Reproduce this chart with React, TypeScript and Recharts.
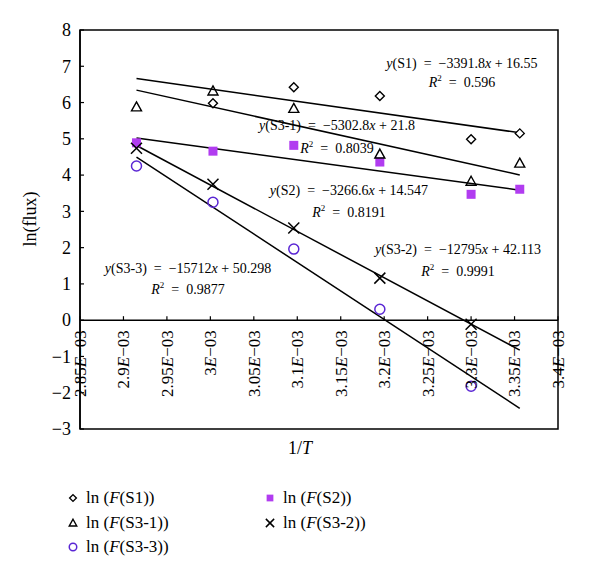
import React from 'react';
import {
  ScatterChart,
  Scatter,
  XAxis,
  YAxis,
  ReferenceLine,
  ReferenceArea,
  ReferenceDot,
} from 'recharts';

// ---- data ----
const X_VALUES = [0.002915, 0.003003, 0.003096, 0.003195, 0.0033, 0.003356];
const S1 = [null, 5.98, 6.42, 6.18, 4.99, 5.15];
const S2 = [4.89, 4.66, 4.82, 4.36, 3.47, 3.61];
const S3_1 = [5.88, 6.32, 5.84, 4.58, 3.83, 4.33];
const S3_2 = [4.74, 3.75, 2.54, 1.16, -0.11, null];
const S3_3 = [4.25, 3.25, 1.96, 0.3, -1.82, null];

const SERIES_NAMES = ['S1', 'S2', 'S3-1', 'S3-2', 'S3-3'];
const FIT_SLOPES = ['3391.8', '3266.6', '5302.8', '12795', '15712'];
const FIT_INTERCEPTS = ['16.55', '14.547', '21.8', '42.113', '50.298'];
const FIT_R2 = ['0.596', '0.8191', '0.8039', '0.9991', '0.9877'];
const LABEL_X = [0.0032895, 0.0031595, 0.0031457, 0.0032849, 0.0029743];
const LABEL_Y = [7.09, 3.59, 5.38, 1.96, 1.44];
const LABEL_R2_Y = [6.57, 2.98, 4.75, 1.36, 0.86];

const X_TICKS = [0.00285, 0.0029, 0.00295, 0.003, 0.00305, 0.0031, 0.00315, 0.0032, 0.00325, 0.0033, 0.00335, 0.0034];
const X_TICK_LABELS = ['2.85E−03', '2.9E−03', '2.95E−03', '3E−03', '3.05E−03', '3.1E−03', '3.15E−03', '3.2E−03', '3.25E−03', '3.3E−03', '3.35E−03', '3.4E−03'];
const Y_TICKS = [-3, -2, -1, 0, 1, 2, 3, 4, 5, 6, 7, 8];
const X_DOMAIN = [0.00285, 0.0034];
const Y_DOMAIN = [-3, 8];

// ---- layout ----
const FONT = '"Liberation Serif", "Times New Roman", serif';
const W = 584;
const H = 460;
const M = { top: 22, right: 34, bottom: 9, left: 22 };
const Y_AXIS_W = 50;
const X_AXIS_H = 30;
const PLOT_H = H - M.top - M.bottom - X_AXIS_H;
const Y0_PX = M.top + (PLOT_H * (Y_DOMAIN[1] - 0)) / (Y_DOMAIN[1] - Y_DOMAIN[0]);

const SQUARE_COLOR = '#b13cf0';
const CIRCLE_COLOR = '#5a26d4';

const toPoints = (ys: (number | null)[]) =>
  X_VALUES.map((x, i) => ({ x, y: ys[i] })).filter((d) => d.y !== null);

// ---- markers ----
const Diamond = ({ cx, cy, k = 1 }: any) => (
  <path d={`M${cx},${cy - 4.5 * k}L${cx + 4.5 * k},${cy}L${cx},${cy + 4.5 * k}L${cx - 4.5 * k},${cy}Z`} fill="#fff" stroke="#000" strokeWidth={1.4} />
);
const Triangle = ({ cx, cy, k = 1 }: any) => (
  <path d={`M${cx},${cy - 5 * k}L${cx + 5 * k},${cy + 4 * k}L${cx - 5 * k},${cy + 4 * k}Z`} fill="none" stroke="#000" strokeWidth={1.4} />
);
const Square = ({ cx, cy, k = 1 }: any) => (
  <rect x={cx - 4.5 * k} y={cy - 4.5 * k} width={9 * k} height={9 * k} fill={SQUARE_COLOR} />
);
const Cross = ({ cx, cy, k = 1 }: any) => (
  <g stroke="#000" strokeWidth={1.5}>
    <line x1={cx - 5.5 * k} y1={cy - 5.5 * k} x2={cx + 5.5 * k} y2={cy + 5.5 * k} />
    <line x1={cx - 5.5 * k} y1={cy + 5.5 * k} x2={cx + 5.5 * k} y2={cy - 5.5 * k} />
  </g>
);
const Circle = ({ cx, cy, k = 1 }: any) => (
  <circle cx={cx} cy={cy} r={5 * k} fill="none" stroke={CIRCLE_COLOR} strokeWidth={1.5} />
);

// ---- ticks ----
const XTick = (props: any) => {
  const { x, index } = props;
  const label: string = X_TICK_LABELS[index] ?? '';
  const [mant, rest] = label.split('E');
  const ty = Y0_PX + 10;
  return (
    <g>
      <line x1={x} y1={Y0_PX} x2={x} y2={Y0_PX - 4} stroke="#000" strokeWidth={1.2} />
      <text
        x={x}
        y={ty}
        transform={`rotate(-90 ${x} ${ty})`}
        textAnchor="end"
        dy="0.35em"
        fontFamily={FONT}
        fontSize={17}
        fill="#000"
      >
        <tspan>{mant}</tspan>
        <tspan fontStyle="italic">E</tspan>
        <tspan>{rest}</tspan>
      </text>
    </g>
  );
};

const YTick = (props: any) => {
  const { y, payload } = props;
  const v = payload.value;
  const axisX = M.left + Y_AXIS_W;
  return (
    <g>
      <line x1={axisX} y1={y} x2={axisX + 4} y2={y} stroke="#000" strokeWidth={1.2} />
      <text x={axisX - 9} y={y} dy="0.35em" textAnchor="end" fontFamily={FONT} fontSize={18} fill="#000">
        {v < 0 ? `−${Math.abs(v)}` : `${v}`}
      </text>
    </g>
  );
};

// ---- equation labels ----
const EqLabel = ({ cx, cy, i }: any) => (
  <text x={cx} y={cy} dy="0.35em" textAnchor="middle" fontFamily={FONT} fontSize={14} fill="#000" style={{ whiteSpace: 'pre' }}>
    <tspan fontStyle="italic">y</tspan>
    <tspan>{`(${SERIES_NAMES[i]})  =  −${FIT_SLOPES[i]}`}</tspan>
    <tspan fontStyle="italic">x</tspan>
    <tspan>{` + ${FIT_INTERCEPTS[i]}`}</tspan>
  </text>
);
const R2Label = ({ cx, cy, i }: any) => (
  <text x={cx} y={cy} dy="0.35em" textAnchor="middle" fontFamily={FONT} fontSize={14} fill="#000" style={{ whiteSpace: 'pre' }}>
    <tspan fontStyle="italic">R</tspan>
    <tspan fontSize={9} dy={-6}>2</tspan>
    <tspan dy={6}>{`  =  ${FIT_R2[i]}`}</tspan>
  </text>
);

const SERIES_LIST = [
  { data: S1, Shape: Diamond, name: 'S1' },
  { data: S2, Shape: Square, name: 'S2' },
  { data: S3_1, Shape: Triangle, name: 'S3-1' },
  { data: S3_2, Shape: Cross, name: 'S3-2' },
  { data: S3_3, Shape: Circle, name: 'S3-3' },
];

const fitAt = (i: number, x: number) => -parseFloat(FIT_SLOPES[i]) * x + parseFloat(FIT_INTERCEPTS[i]);

const LEGEND_ITEMS = [
  { Shape: Diamond, label: 'S1', left: 59, top: 478 },
  { Shape: Triangle, label: 'S3-1', left: 59, top: 503 },
  { Shape: Circle, label: 'S3-3', left: 59, top: 527 },
  { Shape: Square, label: 'S2', left: 256, top: 478 },
  { Shape: Cross, label: 'S3-2', left: 256, top: 503 },
];

export default function App() {
  const xMin = X_VALUES[0];
  const xMax = X_VALUES[X_VALUES.length - 1];
  return (
    <div style={{ position: 'relative', width: W, height: 570, fontFamily: FONT }}>
      <ScatterChart width={W} height={H} margin={M}>
        <XAxis
          type="number"
          dataKey="x"
          domain={X_DOMAIN}
          ticks={X_TICKS}
          interval={0}
          allowDataOverflow
          axisLine={false}
          tickLine={false}
          tick={(p: any) => <XTick {...p} />}
          height={X_AXIS_H}
          label={() => (
            <text x={292} y={446} textAnchor="middle" fontFamily={FONT} fontSize={18} fill="#000">
              <tspan>1/</tspan>
              <tspan fontStyle="italic">T</tspan>
            </text>
          )}
        />
        <YAxis
          type="number"
          dataKey="y"
          domain={Y_DOMAIN}
          ticks={Y_TICKS}
          interval={0}
          width={Y_AXIS_W}
          tickLine={false}
          tickSize={0}
          tickMargin={0}
          axisLine={{ stroke: '#000', strokeWidth: 1.5 }}
          tick={(p: any) => <YTick {...p} />}
          label={() => (
            <text x={28} y={211} transform="rotate(-90 28 211)" textAnchor="middle" fontFamily={FONT} fontSize={18} fill="#000">
              ln(flux)
            </text>
          )}
        />
        <ReferenceArea
          x1={X_DOMAIN[0]}
          x2={X_DOMAIN[1]}
          y1={Y_DOMAIN[0]}
          y2={Y_DOMAIN[1]}
          fill="none"
          fillOpacity={0}
          stroke="#000"
          strokeWidth={1.5}
          ifOverflow="visible"
        />
        <ReferenceLine y={0} stroke="#000" strokeWidth={1.5} />
        {SERIES_LIST.map((s, i) => (
          <ReferenceLine
            key={`fit-${s.name}`}
            segment={[
              { x: xMin, y: fitAt(i, xMin) },
              { x: xMax, y: fitAt(i, xMax) },
            ]}
            stroke="#000"
            strokeWidth={1.5}
            ifOverflow="visible"
          />
        ))}
        {SERIES_LIST.map((s, i) => (
          <ReferenceDot
            key={`eq-${s.name}`}
            x={LABEL_X[i]}
            y={LABEL_Y[i]}
            r={0}
            ifOverflow="visible"
            shape={(p: any) => <EqLabel cx={p.cx} cy={p.cy} i={i} />}
          />
        ))}
        {SERIES_LIST.map((s, i) => (
          <ReferenceDot
            key={`r2-${s.name}`}
            x={LABEL_X[i]}
            y={LABEL_R2_Y[i]}
            r={0}
            ifOverflow="visible"
            shape={(p: any) => <R2Label cx={p.cx} cy={p.cy} i={i} />}
          />
        ))}
        {SERIES_LIST.map((s) => (
          <Scatter
            key={s.name}
            name={`ln (F(${s.name}))`}
            data={toPoints(s.data)}
            isAnimationActive={false}
            shape={(p: any) => <s.Shape cx={p.cx} cy={p.cy} />}
          />
        ))}
      </ScatterChart>
      {LEGEND_ITEMS.map((it) => (
        <div
          key={it.label}
          style={{ position: 'absolute', left: it.left, top: it.top, height: 24, display: 'flex', alignItems: 'center', fontSize: 17, fontFamily: FONT, whiteSpace: 'pre' }}
        >
          <svg width={12} height={12} style={{ marginRight: 7 }}>
            <it.Shape cx={6} cy={6} k={0.75} />
          </svg>
          <span>
            ln (<i>F</i>({it.label}))
          </span>
        </div>
      ))}
    </div>
  );
}
